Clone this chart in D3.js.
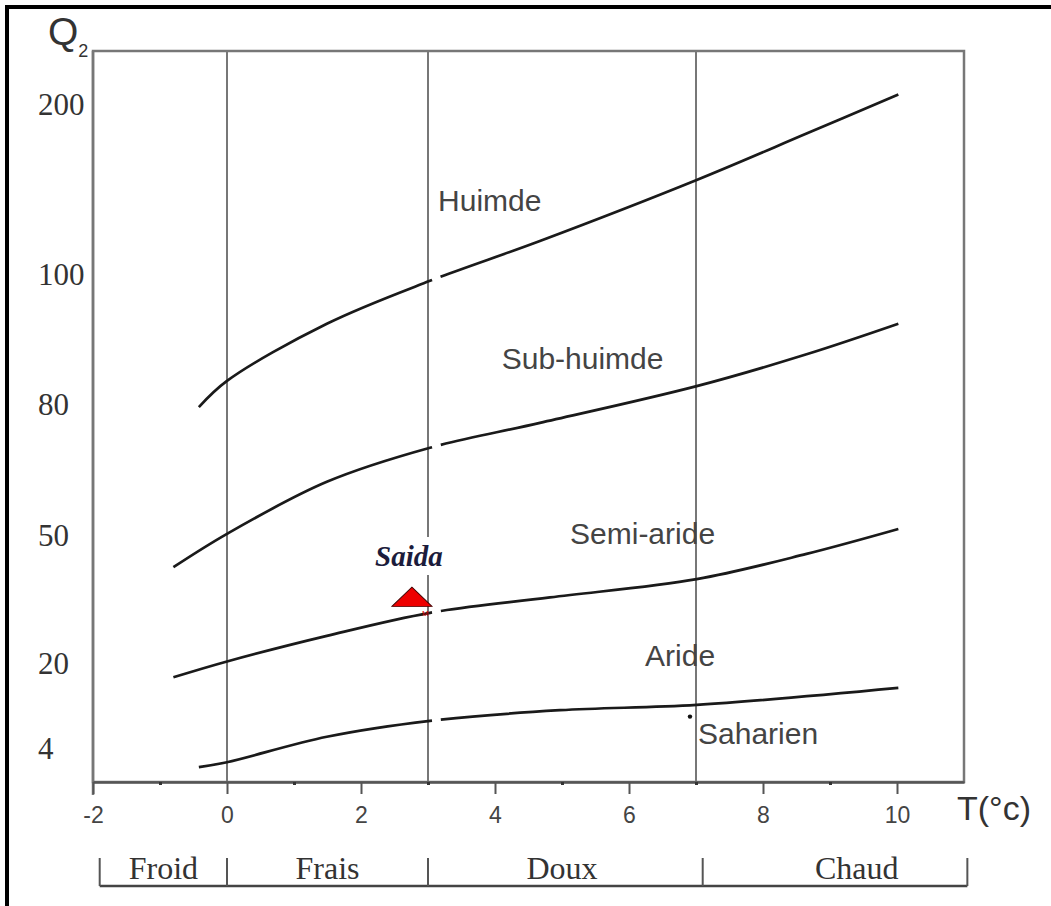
<!DOCTYPE html>
<html>
<head>
<meta charset="utf-8">
<script src="https://cdn.jsdelivr.net/npm/d3@7"></script>
<style>
  body { margin: 0; background: #fff; }
  svg { display: block; }
</style>
</head>
<body>
<div id="chart"></div>
<script>
// Emberger climagram data (T = min temp of coldest month, Q2 = Emberger quotient)
const tempTicks = [-2, 0, 2, 4, 6, 8, 10];
const tempMinor = [-1, 1, 3, 5, 7, 9];
const q2Ticks = [4, 20, 50, 80, 100, 200];
const stageLines = [0, 3, 7];

const zoneNames = ["Froid", "Frais", "Doux", "Chaud"];
const zoneBounds = [-1.9, 0, 3, 7.1, 11.05];
const zoneLabelT = [-0.95, 1.5, 5.0, 9.4];

// boundary curves, [T, Q2]
const humidLine = [[-0.42, 79.5], [0, 83.7], [1.49, 92.5], [3.03, 99.1], [4.67, 120.0], [7.01, 155.9], [8.65, 183.2], [10.02, 206.2]];
const subHumidLine = [[-0.8, 42.7], [0, 50.5], [1.49, 62.4], [3.03, 70.2], [4.67, 75.9], [7.01, 82.9], [8.65, 87.8], [10.02, 92.5]];
const semiAridLine = [[-0.8, 17.5], [0, 20.6], [1.49, 26.6], [3.03, 32.0], [4.82, 35.6], [7.01, 39.9], [8.65, 45.8], [10.02, 51.6]];
const aridLine = [[-0.42, 1.8], [0, 2.4], [1.49, 6.3], [3.03, 9.3], [4.97, 11.3], [7.01, 12.3], [10.02, 15.5]];

const regionNames = ["Huimde", "Sub-huimde", "Semi-aride", "Aride", "Saharien"];
const regionT = [3.15, 4.1, 5.12, 6.24, 7.03];
const regionQ = [144, 87.2, 50.5, 21.9, 7.0];

const stationName = "Saida";
const stationT = 2.76;
const stationQ = 35;

const W = 1051, H = 906;
const plot = {left: 93, right: 964, top: 51, bottom: 782};

const svg = d3.select("#chart").append("svg")
    .attr("width", W)
    .attr("height", H);

// outer frame (only top and left edges are visible)
svg.append("path")
    .attr("d", `M7,${H} L7,7 L${W},7`)
    .attr("fill", "none")
    .attr("stroke", "#000")
    .attr("stroke-width", 4);

const x = d3.scaleLinear().domain([-2, 11]).range([plot.left, plot.right]);
// the Q2 axis of the original is not uniform, so piecewise scale
const y = d3.scaleLinear()
    .domain([0, 4, 20, 50, 80, 100, 200, 232])
    .range([782, 749, 664, 536, 405, 275, 105, 51]);

const grey = "#777";

// plot box
svg.append("rect")
    .attr("x", plot.left).attr("y", plot.top)
    .attr("width", plot.right - plot.left)
    .attr("height", plot.bottom - plot.top)
    .attr("fill", "none")
    .attr("stroke", grey)
    .attr("stroke-width", 2.5);

// left axis runs a little below the bottom
svg.append("line")
    .attr("x1", plot.left).attr("x2", plot.left)
    .attr("y1", plot.top).attr("y2", plot.bottom + 13)
    .attr("stroke", grey).attr("stroke-width", 2.5);

// vertical stage lines
svg.selectAll(".stage").data(stageLines).join("line")
    .attr("class", "stage")
    .attr("x1", d => x(d)).attr("x2", d => x(d))
    .attr("y1", plot.top).attr("y2", plot.bottom)
    .attr("stroke", grey)
    .attr("stroke-width", 2);

// x axis
const xAxis = svg.append("g")
    .attr("transform", `translate(0,${plot.bottom})`)
    .call(d3.axisBottom(x).tickValues(tempTicks).tickSize(12).tickSizeOuter(0).tickPadding(13));
xAxis.select(".domain").attr("stroke", "#555").attr("stroke-width", 2.5);
xAxis.selectAll(".tick line").attr("stroke", "#555").attr("stroke-width", 2);
xAxis.selectAll(".tick text")
    .attr("font-family", "Liberation Sans, Arial, sans-serif")
    .attr("font-size", 23)
    .attr("fill", "#444")
    .text(d => d < 0 ? "-" + Math.abs(d) : d);

svg.append("g")
    .attr("transform", `translate(0,${plot.bottom})`)
    .call(d3.axisBottom(x).tickValues(tempMinor).tickSize(3).tickSizeOuter(0).tickFormat(""))
    .call(g => g.select(".domain").remove())
    .selectAll(".tick line").attr("stroke", "#333").attr("stroke-width", 3);

svg.append("text")
    .attr("x", 957).attr("y", 820)
    .attr("font-family", "Liberation Sans, Arial, sans-serif")
    .attr("font-size", 34)
    .attr("fill", "#333")
    .text("T(°c)");

// y axis labels (left aligned in the original)
const yAxis = svg.append("g")
    .attr("transform", `translate(${plot.left},0)`)
    .call(d3.axisLeft(y).tickValues(q2Ticks).tickSize(0));
yAxis.select(".domain").remove();
yAxis.selectAll(".tick text")
    .attr("x", 38 - plot.left)
    .attr("text-anchor", "start")
    .attr("font-family", "Liberation Serif, Times New Roman, serif")
    .attr("font-size", 31)
    .attr("fill", "#333");

const qLabel = svg.append("text")
    .attr("x", 48).attr("y", 45)
    .attr("font-family", "Liberation Sans, Arial, sans-serif")
    .attr("fill", "#333");
qLabel.append("tspan").attr("font-size", 39).text("Q");
qLabel.append("tspan").attr("font-size", 18).attr("dy", 12).text("2");

// boundary curves
const line = d3.line()
    .x(d => x(d[0]))
    .y(d => y(d[1]))
    .curve(d3.curveCatmullRom.alpha(0.5));

const gapX = x(3.06);
svg.selectAll(".boundary")
    .data([humidLine, subHumidLine, semiAridLine, aridLine])
    .join("path")
    .attr("class", "boundary")
    .attr("d", line)
    .attr("fill", "none")
    .attr("stroke", "#1a1a1a")
    .attr("stroke-width", 2.7)
    .each(function () {
        // small break just right of the T = 3 line, as in the original
        const total = this.getTotalLength();
        let lo = 0, hi = total;
        for (let k = 0; k < 30; k++) {
            const mid = (lo + hi) / 2;
            if (this.getPointAtLength(mid).x < gapX) lo = mid; else hi = mid;
        }
        d3.select(this).attr("stroke-dasharray", `${lo} 9 ${total}`);
    });

// region names
svg.selectAll(".region").data(regionNames).join("text")
    .attr("class", "region")
    .attr("x", (d, i) => x(regionT[i]))
    .attr("y", (d, i) => y(regionQ[i]))
    .attr("dy", "0.35em")
    .attr("font-family", "Liberation Sans, Arial, sans-serif")
    .attr("font-size", 30)
    .attr("fill", "#444")
    .text(d => d);

// small dot near Saharien
svg.append("circle")
    .attr("cx", x(6.91)).attr("cy", y(10.1))
    .attr("r", 2.2).attr("fill", "#111");

// station
const sx = x(stationT), sy = y(stationQ);
svg.append("rect")
    .attr("x", sx - 52).attr("y", sy - 63)
    .attr("width", 90).attr("height", 38)
    .attr("fill", "#fff");
svg.append("text")
    .attr("x", sx - 3).attr("y", sy - 44)
    .attr("dy", "0.35em")
    .attr("text-anchor", "middle")
    .attr("font-family", "Liberation Serif, Times New Roman, serif")
    .attr("font-style", "italic")
    .attr("font-weight", "bold")
    .attr("font-size", 29)
    .attr("fill", "#1c1c3c")
    .text(stationName);
svg.append("path")
    .attr("d", d3.symbol(d3.symbolTriangle, 380)())
    .attr("transform", `translate(${sx},${sy}) scale(1.35,0.75)`)
    .attr("fill", "#ee0000")
    .attr("stroke", "#400")
    .attr("stroke-width", 1);
svg.append("text")
    .attr("x", sx + 10).attr("y", sy + 16)
    .attr("font-family", "Liberation Sans, Arial, sans-serif")
    .attr("font-size", 8)
    .attr("fill", "#d00")
    .text("M");

// temperature zones bracket
const zoneY = 886;
svg.append("line")
    .attr("x1", x(zoneBounds[0])).attr("x2", x(zoneBounds[zoneBounds.length - 1]))
    .attr("y1", zoneY).attr("y2", zoneY)
    .attr("stroke", "#444").attr("stroke-width", 2.5);
svg.selectAll(".zoneTick").data(zoneBounds).join("line")
    .attr("class", "zoneTick")
    .attr("x1", d => x(d)).attr("x2", d => x(d))
    .attr("y1", zoneY - 28).attr("y2", zoneY)
    .attr("stroke", "#555").attr("stroke-width", 2);
svg.selectAll(".zone").data(zoneNames).join("text")
    .attr("class", "zone")
    .attr("x", (d, i) => x(zoneLabelT[i]))
    .attr("y", 879)
    .attr("text-anchor", "middle")
    .attr("font-family", "Liberation Serif, Times New Roman, serif")
    .attr("font-size", 32)
    .attr("fill", "#333")
    .text(d => d);
</script>
</body>
</html>
